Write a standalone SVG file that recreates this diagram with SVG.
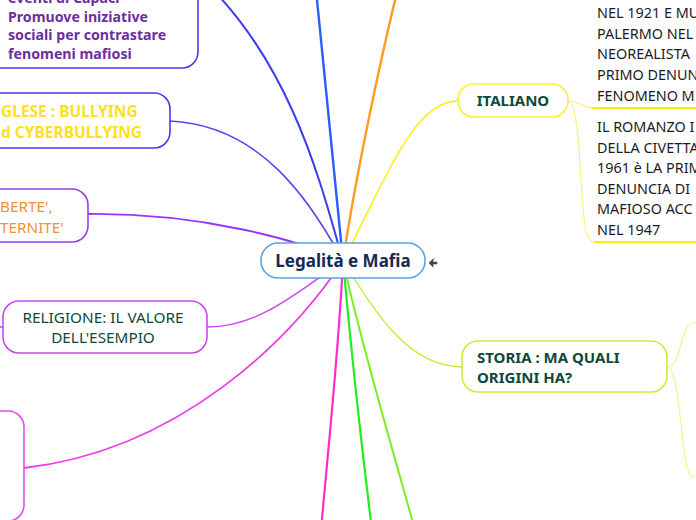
<svg xmlns="http://www.w3.org/2000/svg" width="696" height="520" viewBox="0 0 696 520">
<style>
.t{font-family:"Noto Sans","Open Sans","DejaVu Sans",sans-serif;font-size:15px}
.b{font-weight:bold}
.box{fill:#fff;stroke-width:1.6}
.c{fill:none;stroke-linecap:round}
.det{fill:#1c1c1c;font-size:14.4px}
</style>
<rect width="696" height="520" fill="#fff"/>
<g id="connectors">
<path class="c" d="M343 261 C320 180 290 60 198 -25" stroke="#3b3bf0" stroke-width="2"/>
<path class="c" d="M343 261 C335 180 325 80 316 -10" stroke="#2a5cff" stroke-width="2.4"/>
<path class="c" d="M343 261 C355 180 380 60 400 -20" stroke="#ff9a1f" stroke-width="2.4"/>
<path class="c" d="M343 261 C390 170 415 101 458 101" stroke="#ffee00" stroke-width="1.4"/>
<path class="c" d="M343 261 C310 200 260 125 170 121" stroke="#6a3af0" stroke-width="1.6"/>
<path class="c" d="M343 261 C300 240 200 213 88 214" stroke="#9a33ff" stroke-width="1.8"/>
<path class="c" d="M343 261 C300 290 260 327 207 327" stroke="#cc44ee" stroke-width="1.4"/>
<path class="c" d="M343 261 C290 340 180 450 24 468" stroke="#ee3bee" stroke-width="1.8"/>
<path class="c" d="M343 261 C338 360 328 450 321 530" stroke="#ff2ccc" stroke-width="2.2"/>
<path class="c" d="M343 261 C352 360 362 450 372 530" stroke="#22ee22" stroke-width="2.2"/>
<path class="c" d="M343 261 C360 340 390 440 415 530" stroke="#7aee22" stroke-width="2"/>
<path class="c" d="M343 261 C380 320 410 366 462 367" stroke="#c0f030" stroke-width="1.4"/>
<path class="c" d="M568 101 C582 101 580 108 593 108" stroke="#fff07a" stroke-width="1.2"/>
<path class="c" d="M593 108 L700 108" stroke="#ffee00" stroke-width="2"/>
<path class="c" d="M568 101 C582 101 580 225 587 234 C589 238 591 242 595 242" stroke="#fff07a" stroke-width="1.2"/>
<path class="c" d="M595 242 L700 242" stroke="#ffee00" stroke-width="2"/>
<path class="c" d="M667 367 C682 367 680 323 693 323 L700 323" stroke="#dcff8a" stroke-width="1.2"/>
<path class="c" d="M667 367 C682 367 680 477 693 477 L700 477" stroke="#dcff8a" stroke-width="1.2"/>
<path class="c" d="M3 327 L-5 327" stroke="#cc44ee" stroke-width="1.4"/>
</g>
<g id="node-top-left">
<rect class="box" x="-20" y="-30" width="218" height="98" rx="16" stroke="#4a3af0"/>
<text class="t b" fill="#6b2fa0" x="8" style="font-size:14.2px"><tspan y="3">eventi di Capaci</tspan><tspan x="8" y="21.5">Promuove iniziative</tspan><tspan x="8" y="40">sociali per contrastare</tspan><tspan x="8" y="58.5">fenomeni mafiosi</tspan></text>
</g>
<g id="node-inglese">
<rect class="box" x="-20" y="93" width="190" height="55" rx="16" stroke="#5a2ff0"/>
<text class="t b" fill="#ffdf1e" x="1" style="font-size:15.5px"><tspan y="116.5">GLESE : BULLYING</tspan><tspan x="1" y="137.5">d CYBERBULLYING</tspan></text>
</g>
<g id="node-liberte">
<rect class="box" x="-20" y="189" width="108" height="53" rx="16" stroke="#9a3af5"/>
<text class="t" fill="#f0903a" x="0" style="font-size:15.3px"><tspan y="211.5">BERTE',</tspan><tspan x="0" y="232.5">TERNITE'</tspan></text>
</g>
<g id="node-religione">
<rect class="box" x="3" y="301" width="204" height="52" rx="16" stroke="#c64aea"/>
<text class="t" fill="#10483a" text-anchor="middle" x="103" style="font-size:15.3px"><tspan y="322.5">RELIGIONE: IL VALORE</tspan><tspan x="103" y="343">DELL'ESEMPIO</tspan></text>
</g>
<g id="node-bottom-left">
<rect class="box" x="-20" y="411" width="44" height="110" rx="16" stroke="#e64ae8"/>
</g>
<g id="node-center">
<rect class="box" x="261" y="243" width="164" height="35" rx="17" stroke="#5ba3dc"/>
<text class="t b" fill="#142a52" text-anchor="middle" x="343" y="267" style="font-size:17px">Legalità e Mafia</text>
<path d="M429 263 L433 259 L433 262 L437 262 L437 264 L433 264 L433 267 Z M433 260 L435 258" fill="#445" stroke="#445" stroke-width="0.6"/>
</g>
<g id="node-italiano">
<rect class="box" x="458" y="84" width="110" height="33" rx="16" stroke="#ffee33"/>
<text class="t b" fill="#10483a" text-anchor="middle" x="513" y="106">ITALIANO</text>
</g>
<g id="node-italiano-1">
<text class="t det" x="597"><tspan y="18">NEL 1921 E MU</tspan><tspan x="597" y="38.7">PALERMO NEL</tspan><tspan x="597" y="59.4">NEOREALISTA</tspan><tspan x="597" y="80.1">PRIMO DENUN</tspan><tspan x="597" y="100.8">FENOMENO M</tspan></text>
</g>
<g id="node-italiano-2">
<text class="t det" x="597"><tspan y="132">IL ROMANZO I</tspan><tspan x="597" y="152.5">DELLA CIVETTA</tspan><tspan x="597" y="173">1961 è LA PRIM</tspan><tspan x="597" y="193.5">DENUNCIA DI</tspan><tspan x="597" y="214">MAFIOSO ACC</tspan><tspan x="597" y="234.5">NEL 1947</tspan></text>
</g>
<g id="node-storia">
<rect class="box" x="462" y="341" width="205" height="51" rx="16" stroke="#c4f03c"/>
<text class="t b" fill="#10483a" x="477"><tspan y="362.5">STORIA : MA QUALI</tspan><tspan x="477" y="383">ORIGINI HA?</tspan></text>
</g>
</svg>
